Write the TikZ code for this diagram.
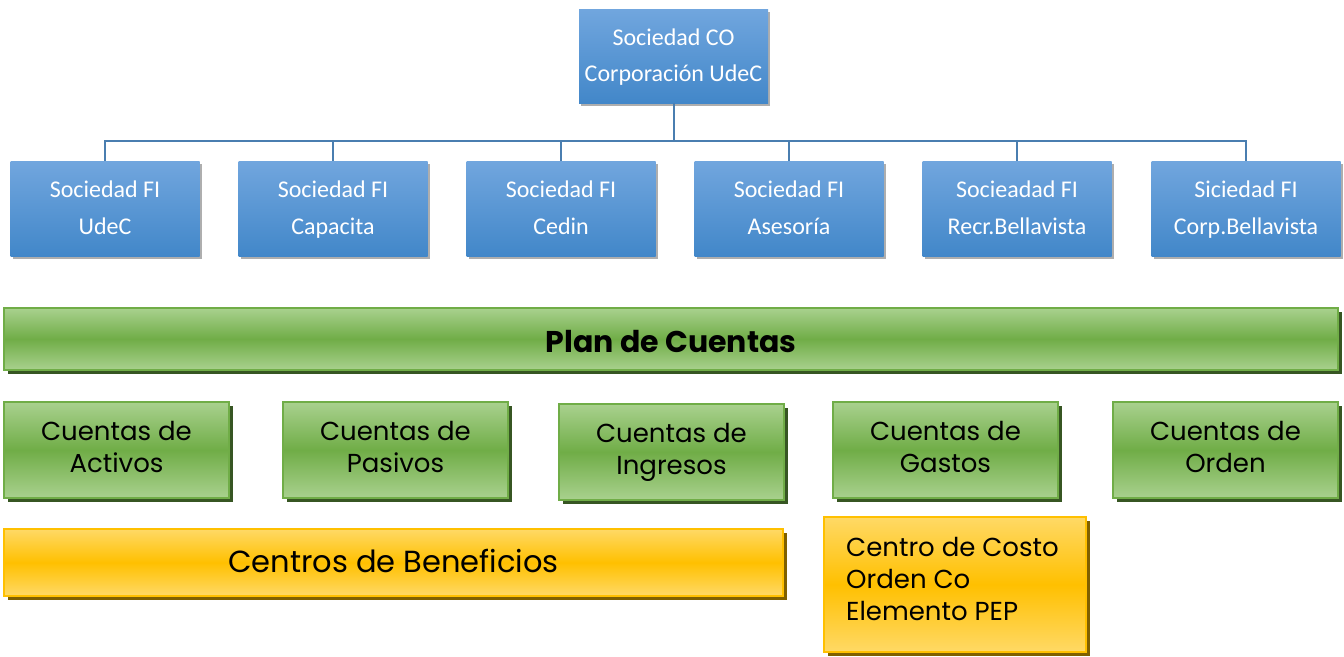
\documentclass[tikz,border=0pt]{standalone}
\usepackage{fontspec}
\newfontfamily\calfont{Carlito}
\newfontfamily\gothfont{Poppins}
\usetikzlibrary{shadows}
\definecolor{bluetop}{HTML}{71A6DE}
\definecolor{bluemid}{HTML}{559ADD}
\definecolor{bluebot}{HTML}{4287C9}
\definecolor{blueline}{HTML}{4A7EB0}
\definecolor{greenlight}{HTML}{A9D18E}
\definecolor{greenmid}{HTML}{70AD47}
\definecolor{greenborder}{HTML}{70AD47}
\definecolor{greenshadow}{HTML}{375623}
\definecolor{orlight}{HTML}{FFD966}
\definecolor{ormid}{HTML}{FFC000}
\definecolor{orborder}{HTML}{FFC000}
\definecolor{orshadow}{HTML}{7F6000}
\tikzset{
  bluebox/.style={rectangle, minimum width=189pt, minimum height=95pt, inner sep=0pt,
    top color=bluetop, bottom color=bluebot, draw=none, text=white, align=center,
    font=\calfont\fontsize{24}{37}\selectfont,
    drop shadow={shadow xshift=2pt, shadow yshift=-3pt, opacity=0.45, fill=black!70}},
  greenbox/.style={rectangle, minimum width=225pt, minimum height=96pt, inner sep=0pt,
    top color=greenlight, bottom color=greenlight, middle color=greenmid,
    draw=greenborder, line width=1.5pt, align=center, text=black,
    font=\gothfont\fontsize{26}{32}\selectfont,
    general shadow={shadow xshift=4pt, shadow yshift=-4pt, fill=greenshadow}},
  orbox/.style={rectangle, inner sep=0pt, top color=orlight, bottom color=orlight,
    middle color=ormid, draw=orborder, line width=1.5pt, text=black,
    general shadow={shadow xshift=4pt, shadow yshift=-4pt, fill=orshadow}},
  conn/.style={draw=blueline, line width=2pt}
}
\begin{document}
\begin{tikzpicture}[x=1pt,y=-1pt]
\useasboundingbox (0,0) rectangle (1344,656);
\node[bluebox, minimum height=94pt, font=\calfont\fontsize{24}{36}\selectfont] (top) at (673.5,56) {\strut Sociedad CO\\Corporación UdeC\strut};
\node[bluebox] (b1) at (105,208.5) {\strut Sociedad FI\\UdeC\strut};
\node[bluebox] (b2) at (333,208.5) {\strut Sociedad FI\\Capacita\strut};
\node[bluebox] (b3) at (561,208.5) {\strut Sociedad FI\\Cedin\strut};
\node[bluebox] (b4) at (789,208.5) {\strut Sociedad FI\\Asesoría\strut};
\node[bluebox] (b5) at (1017,208.5) {\strut Socieadad FI\\Recr.Bellavista\strut};
\node[bluebox] (b6) at (1246,208.5) {\strut Siciedad FI\\Corp.Bellavista\strut};
\foreach \b in {b1,b2,b3,b4,b5,b6}
  \draw[conn] (top.south) -- ++(0,38) -| (\b.north);
\node[greenbox, minimum width=1334pt, minimum height=62pt, font=\gothfont\bfseries\fontsize{30}{34}\selectfont] (plan) at (671,339) {\raisebox{-3pt}[\height][\depth]{Plan de Cuentas}};
\node[greenbox] (g1) at (116.5,450) {\strut Cuentas de\\Activos\strut};
\node[greenbox] (g2) at (395.5,450) {\strut Cuentas de\\Pasivos\strut};
\node[greenbox] (g3) at (671.5,452) {\strut Cuentas de\\Ingresos\strut};
\node[greenbox] (g4) at (945.5,450) {\strut Cuentas de\\Gastos\strut};
\node[greenbox] (g5) at (1225.5,450) {\strut Cuentas de\\Orden\strut};
\node[orbox, minimum width=779pt, minimum height=67pt, font=\gothfont\fontsize{30.5}{34}\selectfont] (o1) at (393.5,562.5) {\raisebox{2pt}[\height][\depth]{Centros de Beneficios}};
\node[orbox, minimum width=262pt, minimum height=135pt] (o2) at (955,584.5) {};
\node[anchor=west, inner sep=0pt, align=left, font=\gothfont\fontsize{26}{32}\selectfont] (o2t) at (846,582) {\strut Centro de Costo\\Orden Co\\Elemento PEP\strut};
\end{tikzpicture}
\end{document}
